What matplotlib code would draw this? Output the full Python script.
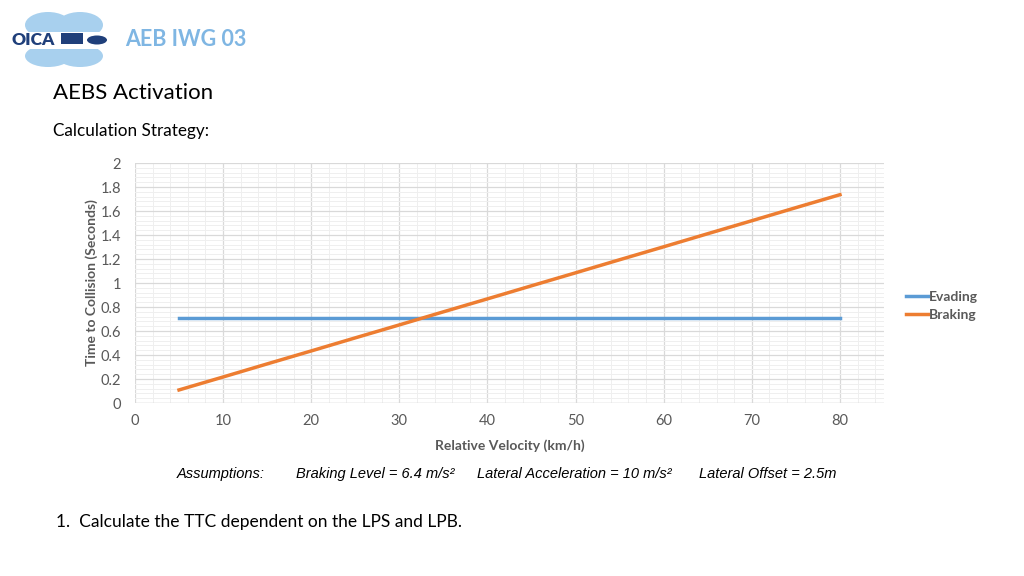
import matplotlib
matplotlib.use("Agg")
import matplotlib.pyplot as plt
from matplotlib.patches import Ellipse, Rectangle
from matplotlib.ticker import MultipleLocator

# values
velocity = [5, 10, 15, 20, 25, 30, 35, 40, 45, 50, 55, 60, 65, 70, 75, 80]
evading = [0.707] * 16
braking = [0.109, 0.217, 0.326, 0.434, 0.543, 0.651, 0.760, 0.868,
           0.977, 1.085, 1.194, 1.302, 1.411, 1.519, 1.628, 1.736]
series_names = ["Evading", "Braking"]
assumptions = ["Assumptions:", "Braking Level = 6.4 m/s²",
               "Lateral Acceleration = 10 m/s²", "Lateral Offset = 2.5m"]

plt.rcParams['font.family'] = ['Lato', 'DejaVu Sans']
grey = '#595959'

fig = plt.figure(figsize=(10.24, 5.76), dpi=100)

# header: rough logo drawn in pixel units
logo = fig.add_axes([0.0, 0.0, 1.0, 1.0])
logo.set_xlim(0, 1024)
logo.set_ylim(576, 0)
logo.axis('off')
lb = '#a8d0ee'
for cx in (48, 80):
    logo.add_patch(Ellipse((cx, 25), 46, 26, color=lb, lw=0))
    logo.add_patch(Ellipse((cx, 56), 46, 22, color=lb, lw=0))
logo.add_patch(Rectangle((8, 32), 104, 17, color='white', lw=0))
logo.text(11, 40, "OICA", fontsize=12.5, fontweight='heavy', color='#1f3f7a',
          va='center', ha='left')
logo.add_patch(Rectangle((61, 33), 22, 11, color='#1f3f7a', lw=0))
logo.add_patch(Ellipse((97, 40), 20, 9, color='#1f3f7a', lw=0))
logo.text(125, 40, "AEB IWG 03", fontsize=15.5, color='#7fb6e3',
          fontweight='bold', va='center')

fig.text(0.052, 0.838, "AEBS Activation", fontsize=16, color='black', va='center')
fig.text(0.052, 0.772, "Calculation Strategy:", fontsize=12.3, color='black', va='center')

ax = fig.add_axes([0.1318, 0.3003, 0.7315, 0.4167])
ax.plot(velocity, evading, color='#5b9bd5', lw=2.5, label=series_names[0])
ax.plot(velocity, braking, color='#ed7d31', lw=2.5, label=series_names[1])

ax.set_xlim(0, 85)
ax.set_ylim(0, 2)
ax.xaxis.set_minor_locator(MultipleLocator(2))
ax.yaxis.set_minor_locator(MultipleLocator(0.04))
ax.set_xticks(range(0, 81, 10))
ax.set_yticks([0, 0.2, 0.4, 0.6, 0.8, 1, 1.2, 1.4, 1.6, 1.8, 2])
ax.set_yticklabels(["0", "0.2", "0.4", "0.6", "0.8", "1", "1.2", "1.4", "1.6", "1.8", "2"])
ax.grid(which='major', color='#d9d9d9', lw=0.9)
ax.grid(which='minor', color='#efefef', lw=0.7)
ax.set_axisbelow(True)
for s in ax.spines.values():
    s.set_visible(False)
ax.axhline(0, color='#d9d9d9', lw=1)
ax.tick_params(which='both', length=0, colors=grey, labelsize=10.5)
ax.tick_params(axis='x', pad=8)
ax.tick_params(axis='y', pad=10)

ax.set_xlabel("Relative Velocity (km/h)", fontsize=10, fontweight='bold', color=grey, labelpad=8)
ax.set_ylabel("Time to Collision (Seconds)", fontsize=10, fontweight='bold', color=grey, labelpad=2)

ax.legend(loc='center left', bbox_to_anchor=(1.012, 0.405), frameon=False,
          handlelength=1.6, handletextpad=0.1, labelspacing=0.45,
          labelcolor=grey, prop={'weight': 'bold', 'size': 10})

xs = [0.173, 0.289, 0.466, 0.683]
for x, t in zip(xs, assumptions):
    fig.text(x, 0.177, t, fontsize=10.5, style='italic', family='Liberation Sans', va='center')

fig.text(0.055, 0.093, "1.  Calculate the TTC dependent on the LPS and LPB.", fontsize=12.5, va='center')

fig.savefig("out.png", dpi=100)
